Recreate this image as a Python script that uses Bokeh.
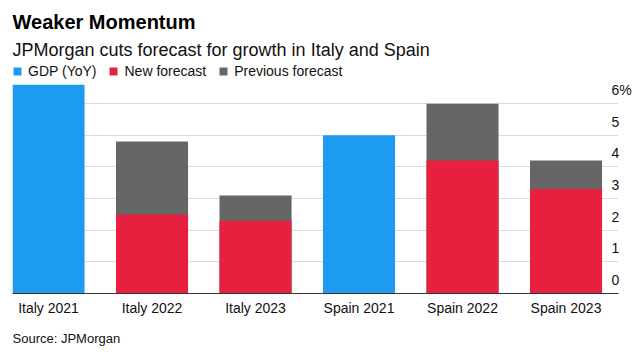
from bokeh.plotting import figure
from bokeh.models import (Range1d, FixedTicker, LinearAxis, Grid, Legend, LegendItem,
                          Title, ColumnDataSource)
from bokeh.embed import file_html
from bokeh.resources import INLINE

# ---- data ----
categories = ["Italy 2021", "Italy 2022", "Italy 2023", "Spain 2021", "Spain 2022", "Spain 2023"]
gdp_categories = ["Italy 2021", "Spain 2021"]
gdp_yoy = [6.6, 5.0]
forecast_categories = ["Italy 2022", "Italy 2023", "Spain 2022", "Spain 2023"]
new_forecast = [2.5, 2.3, 4.2, 3.3]
previous_forecast = [4.8, 3.1, 6.0, 4.2]
y_ticks = [0, 1, 2, 3, 4, 5, 6]
y_tick_labels = ["0", "1", "2", "3", "4", "5", "6%"]

FONT = "Liberation Sans"
BLUE = "#1d9bf0"
RED = "#e8203f"
GRAY = "#666666"

pos = {c: i for i, c in enumerate(categories)}
gdp_src = ColumnDataSource(dict(x=[pos[c] for c in gdp_categories], top=gdp_yoy))
fc_src = ColumnDataSource(dict(x=[pos[c] for c in forecast_categories],
                               new=new_forecast, prev=previous_forecast))

Y_END = 7.30  # leaves room above the bars for the legend
p = figure(width=642, height=356, output_backend="svg", toolbar_location=None,
           x_range=Range1d(-0.348, 5.507), y_range=Range1d(0, Y_END),
           x_axis_location="below", y_axis_location=None,
           min_border_left=12, min_border_right=24, min_border_top=62, min_border_bottom=62)
p.outline_line_color = None
p.background_fill_color = "white"
p.border_fill_color = "white"
p.xgrid.visible = False
for g in p.ygrid:
    g.visible = False

# grid lines
grid = Grid(dimension=1, ticker=FixedTicker(ticks=y_ticks), grid_line_color="#dcdcdc",
            grid_line_width=1)
p.add_layout(grid, "center")

W = 0.696
r_gdp = p.vbar(x="x", top="top", width=W, source=gdp_src, fill_color=BLUE, line_color=None)
r_prev = p.vbar(x="x", top="prev", width=W, source=fc_src, fill_color=GRAY, line_color=None)
r_new = p.vbar(x="x", top="new", width=W, source=fc_src, fill_color=RED, line_color=None)

# x axis
xa = p.xaxis[0]
xa.ticker = FixedTicker(ticks=list(range(len(categories))))
xa.major_label_overrides = {i: c for i, c in enumerate(categories)}
xa.major_tick_line_color = None
xa.minor_tick_line_color = None
xa.major_tick_out = 0
xa.major_tick_in = 0
xa.minor_tick_out = 0
xa.axis_line_color = "#333333"
xa.axis_line_width = 1
xa.major_label_text_font = FONT
xa.major_label_text_font_size = "14px"
xa.major_label_text_color = "#111111"
xa.major_label_standoff = 6

# right axis with labels sitting above grid lines
off = 0.43
p.extra_y_ranges = {"lab": Range1d(0 - off, Y_END - off)}
ya = LinearAxis(y_range_name="lab", ticker=FixedTicker(ticks=y_ticks))
ya.major_label_overrides = {t: l for t, l in zip(y_ticks, y_tick_labels)}
ya.axis_line_color = None
ya.major_tick_line_color = None
ya.minor_tick_line_color = None
ya.major_tick_out = 0
ya.major_tick_in = 0
ya.minor_tick_out = 0
ya.major_label_text_font = FONT
ya.major_label_text_font_size = "14px"
ya.major_label_text_color = "#111111"
ya.major_label_standoff = -7
p.add_layout(ya, "right")

# legend (inside the frame, above the bars)
legend = Legend(items=[LegendItem(label="GDP (YoY)", renderers=[r_gdp]),
                       LegendItem(label="New forecast", renderers=[r_new]),
                       LegendItem(label="Previous forecast", renderers=[r_prev])],
                orientation="horizontal", location="top_left",
                margin=0, padding=2, spacing=12, label_standoff=6,
                glyph_width=10, glyph_height=10, label_height=18,
                label_text_font=FONT, label_text_font_size="14px",
                label_text_color="#111111", border_line_color=None,
                background_fill_alpha=0)
p.add_layout(legend, "center")

sub = Title(text="JPMorgan cuts forecast for growth in Italy and Spain", align="left",
            text_font=FONT, text_font_size="18px", text_font_style="normal",
            text_color="#111111", standoff=6)
p.add_layout(sub, "above")
ttl = Title(text="Weaker Momentum", align="left", text_font=FONT, text_font_size="20px",
            text_font_style="bold", text_color="#000000", standoff=4)
p.add_layout(ttl, "above")

src = Title(text="Source: JPMorgan", align="left", text_font=FONT, text_font_size="13px",
            text_font_style="normal", text_color="#111111", standoff=21)
p.add_layout(src, "below")

open("out.html", "w").write(file_html(p, INLINE))
